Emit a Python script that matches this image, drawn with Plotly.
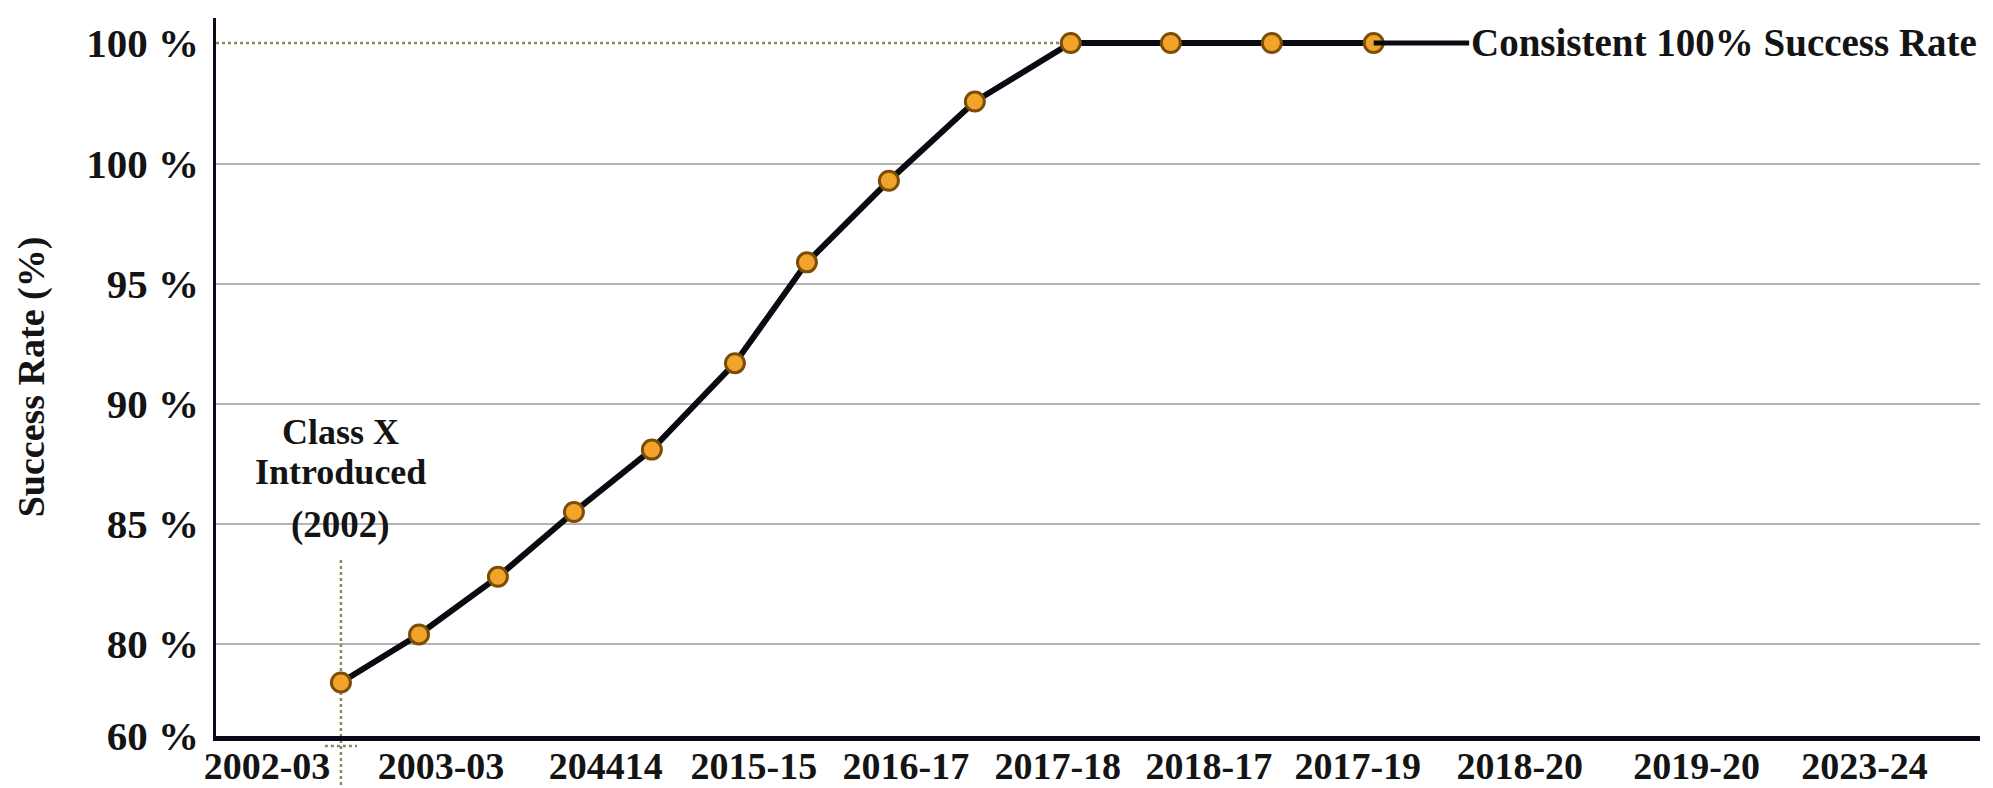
import plotly.graph_objects as go

# ---- data ----
x_labels = ["2002-03", "2003-03", "204414", "2015-15", "2016-17", "2017-18",
            "2018-17", "2017-19", "2018-20", "2019-20", "2023-24"]
x_label_pos = [0.318, 1.403, 2.431, 3.354, 4.302, 5.249, 6.191, 7.12, 8.13, 9.233, 10.28]

y_tick_text = ["60 %", "80 %", "85 %", "90 %", "95 %", "100 %", "100 %"]
y_tick_vals = [76.17, 80, 85, 90, 95, 100, 105.04]
grid_vals = [80, 85, 90, 95, 100]

point_x = [0.779, 1.266, 1.758, 2.232, 2.718, 3.236, 3.685, 4.196, 4.732, 5.330, 5.954, 6.584, 7.219]
success_rate = [78.4, 80.4, 82.8, 85.5, 88.1, 91.7, 95.9, 99.3, 102.6, 105.04, 105.04, 105.04, 105.04]

FONT = "Liberation Serif"
X_RANGE = [0, 11]
Y_RANGE = [76.17, 106.08]
TXT = "#141414"

fig = go.Figure()

# gridlines
for g in grid_vals:
    fig.add_shape(type="line", xref="paper", yref="y", x0=0, x1=1, y0=g, y1=g,
                  line=dict(color="#b4b4b4", width=2), layer="below")

# top dotted reference line (from axis to first 100% point)
fig.add_shape(type="line", xref="x", yref="y", x0=X_RANGE[0], x1=point_x[9],
              y0=success_rate[9], y1=success_rate[9],
              line=dict(color="#8c8a5c", width=2.5, dash="dot"), layer="below")

# vertical dotted marker for Class X introduction
fig.add_shape(type="line", xref="x", yref="paper", x0=point_x[0], x1=point_x[0],
              y0=-0.085, y1=0.245,
              line=dict(color="#8c8a5c", width=2.5, dash="dot"), layer="below")
fig.add_shape(type="line", xref="x", yref="paper", x0=point_x[0] - 0.1, x1=point_x[0] + 0.1,
              y0=-0.014, y1=-0.014,
              line=dict(color="#8c8a5c", width=2.5, dash="dot"), layer="below")

fig.add_trace(go.Scatter(
    x=point_x, y=success_rate, mode="lines+markers",
    line=dict(color="#0a0a12", width=6),
    marker=dict(size=19, color="#f2a42a", line=dict(color="#7a4e08", width=3)),
    showlegend=False, cliponaxis=False,
))

fig.add_annotation(x=point_x[-1], y=success_rate[-1], xref="x", yref="y",
                   text="<b>Consistent 100% Success Rate</b>",
                   showarrow=True, arrowhead=0, arrowwidth=5, arrowcolor="#0a0a12",
                   ax=350, ay=0, font=dict(family=FONT, size=39, color=TXT))

fig.add_annotation(x=point_x[0], y=88.84, xref="x", yref="y", text="<b>Class X</b>",
                   showarrow=False, font=dict(family=FONT, size=36, color=TXT))
fig.add_annotation(x=point_x[0], y=87.15, xref="x", yref="y", text="<b>Introduced</b>",
                   showarrow=False, font=dict(family=FONT, size=36, color=TXT))
fig.add_annotation(x=point_x[0], y=84.95, xref="x", yref="y", text="<b>(2002)</b>",
                   showarrow=False, font=dict(family=FONT, size=37, color=TXT))

fig.update_layout(
    width=1993, height=788,
    margin=dict(l=208, r=21, t=10, b=60),
    paper_bgcolor="white", plot_bgcolor="white",
    xaxis=dict(range=X_RANGE, tickvals=x_label_pos, automargin=False,
               ticktext=["<b>%s</b>" % t for t in x_labels],
               showgrid=False, zeroline=False, showline=True, linecolor="#0a0a1a",
               linewidth=5, ticks="", ticklabelstandoff=-8,
               tickfont=dict(family=FONT, size=38, color=TXT)),
    yaxis=dict(range=Y_RANGE, tickvals=y_tick_vals, automargin=False,
               ticktext=["<b>%s</b>" % t for t in y_tick_text],
               showgrid=False, zeroline=False, showline=True, linecolor="#0a0a1a",
               linewidth=2.5, ticks="", ticklabelstandoff=6,
               tickfont=dict(family=FONT, size=41, color=TXT),
               title=dict(text="<b>Success Rate (%)</b>", standoff=30,
                          font=dict(family=FONT, size=38, color=TXT))),
)

fig.write_html("out.html")
